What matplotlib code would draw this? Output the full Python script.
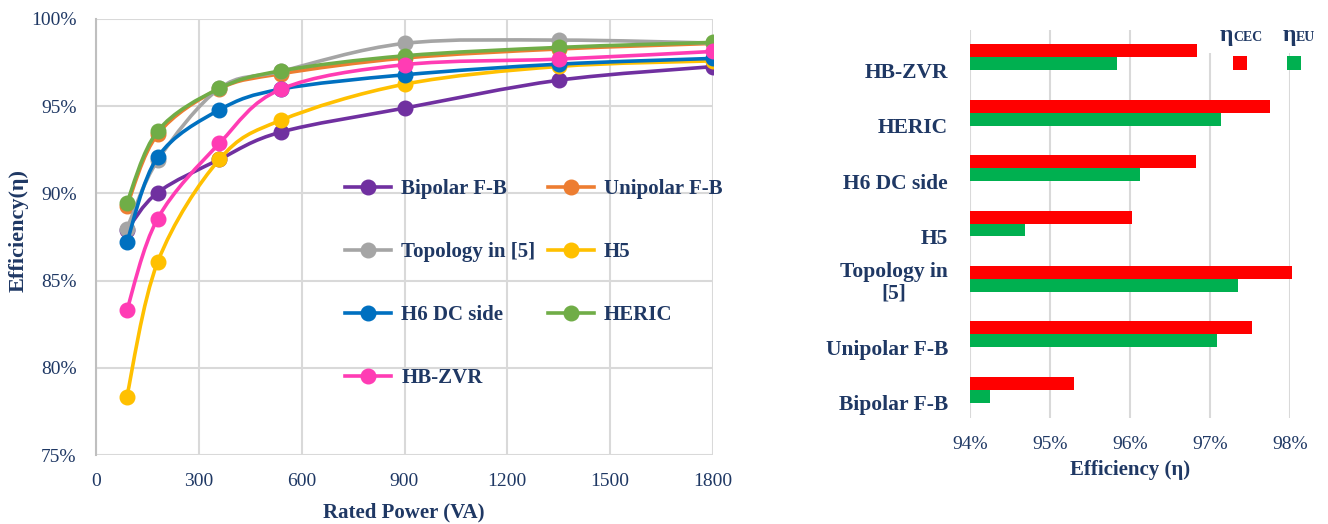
import matplotlib
matplotlib.use('Agg')
import matplotlib.pyplot as plt
import matplotlib.transforms as mtransforms
from matplotlib.path import Path
from matplotlib.patches import PathPatch, Rectangle
from matplotlib.lines import Line2D
from matplotlib.ticker import PercentFormatter
import numpy as np

# efficiency (%) vs rated power (VA)
power = [90, 180, 360, 540, 900, 1350, 1800]
bipolar = [87.9, 90.05, 91.95, 93.52, 94.89, 96.49, 97.27]
unipolar = [89.27, 93.4, 96.0, 96.86, 97.76, 98.28, 98.6]
topology5 = [87.97, 91.9, 96.02, 97.0, 98.6, 98.79, 98.62]
h5 = [78.35, 86.07, 91.95, 94.2, 96.26, 97.28, 97.6]
h6 = [87.2, 92.09, 94.79, 95.98, 96.8, 97.41, 97.74]
heric = [89.46, 93.58, 96.02, 97.03, 97.89, 98.37, 98.66]
hbzvr = [83.3, 88.56, 92.87, 95.98, 97.38, 97.7, 98.14]

series_names = ['Bipolar F-B', 'Unipolar F-B', 'Topology in [5]', 'H5',
                'H6 DC side', 'HERIC', 'HB-ZVR']
series_vals = [bipolar, unipolar, topology5, h5, h6, heric, hbzvr]
series_cols = ['#7030A0', '#ED7D31', '#A5A5A5', '#FFC000',
               '#0070C0', '#70AD47', '#FF3CB4']

# weighted efficiencies (%)
bar_labels = ['Bipolar F-B', 'Unipolar F-B', 'Topology in\n[5]', 'H5',
              'H6 DC side', 'HERIC', 'HB-ZVR']
eta_cec = [95.30, 97.53, 98.03, 96.02, 96.83, 97.75, 96.84]
eta_eu = [94.25, 97.09, 97.35, 94.69, 96.12, 97.14, 95.84]

navy = '#1F3864'
grid_c = '#D9D9D9'
plt.rcParams['font.family'] = ['Liberation Serif', 'DejaVu Serif']

W, H = 1328, 524
fig = plt.figure(figsize=(W / 100, H / 100), dpi=100)


def px(x, y):
    return x / W, 1 - y / H


def smooth_path(xs, ys):
    # excel-like smoothed line: cubic bezier through the points
    p = np.column_stack([xs, ys]).astype(float)
    n = len(p)
    verts = [p[0]]
    codes = [Path.MOVETO]
    for i in range(n - 1):
        prev = p[i - 1] if i > 0 else p[i]
        nxt = p[i + 2] if i + 2 < n else p[i + 1]
        c1 = p[i] + (p[i + 1] - prev) / 6
        c2 = p[i + 1] - (nxt - p[i]) / 6
        verts += [c1, c2, p[i + 1]]
        codes += [Path.CURVE4] * 3
    return Path(verts, codes)


# ---------- left: line chart ----------
ax = fig.add_axes([96 / W, 1 - 455 / H, 617 / W, 436 / H])
for name, vals, col in zip(series_names, series_vals, series_cols):
    ax.add_patch(PathPatch(smooth_path(power, vals), fill=False,
                           edgecolor=col, lw=2.6, zorder=3))
    ax.plot(power, vals, 'o', color=col, ms=10.5, zorder=3)

ax.set_xlim(0, 1800)
ax.set_ylim(75, 100)
ax.set_xticks(range(0, 1801, 300))
ax.set_yticks(range(75, 101, 5))
ax.yaxis.set_major_formatter(PercentFormatter(decimals=0))
ax.grid(True, color=grid_c, lw=1.5)
ax.set_axisbelow(True)
for s in ['top', 'right', 'bottom']:
    ax.spines[s].set_visible(False)
ax.spines['left'].set_color('#BFBFBF')
ax.spines['left'].set_linewidth(1.5)
ax.tick_params(length=0, colors=navy, labelsize=14)
ax.tick_params(axis='y', pad=14)
ax.tick_params(axis='x', pad=13)

# legend is filled row by row in the original -> reorder for matplotlib
order = [0, 2, 4, 6, 1, 3, 5]
handles = [Line2D([], [], color=series_cols[k], lw=2.6, marker='o', ms=10.5)
           for k in order]
ax.legend(handles, [series_names[k] for k in order], ncol=2, frameon=False,
          loc='upper left', bbox_to_anchor=px(345, 179),
          bbox_transform=fig.transFigure,
          borderpad=0, borderaxespad=0, handlelength=2.2, handletextpad=0.5,
          columnspacing=0.6, labelspacing=2.07,
          prop={'weight': 'bold', 'size': 15}, labelcolor=navy)

fig.text(*px(19, 230), 'Efficiency(η)', rotation=90, ha='center', va='center',
         fontsize=16, fontweight='bold', color=navy)
fig.text(*px(404, 512), 'Rated Power (VA)', ha='center', va='center',
         fontsize=15, fontweight='bold', color=navy)

# ---------- right: bar chart ----------
bx = fig.add_axes([970 / W, 1 - 417.5 / H, 320 / W, 388 / H])
ypos = np.arange(len(bar_labels))
bh = 0.234
bx.barh(ypos + bh / 2, np.array(eta_cec) - 94, left=94, height=bh,
        color='#FF0000', clip_on=False, zorder=3)
bx.barh(ypos - bh / 2, np.array(eta_eu) - 94, left=94, height=bh,
        color='#00B050', clip_on=False, zorder=3)
bx.set_xlim(94, 98)
bx.set_ylim(-0.5, len(bar_labels) - 0.5)
bx.set_xticks(range(94, 99))
bx.xaxis.set_major_formatter(PercentFormatter(decimals=0))
bx.set_yticks(ypos)
bx.set_yticklabels([])
bx.grid(True, axis='x', color=grid_c, lw=1.5)
bx.set_axisbelow(True)
for s in bx.spines.values():
    s.set_visible(False)
bx.tick_params(length=0, colors=navy, labelsize=14)
bx.tick_params(axis='x', pad=13)

lab_tr = mtransforms.blended_transform_factory(bx.transAxes, bx.transData)
for i, lab in enumerate(bar_labels):
    dy = -3.7 if '\n' in lab else -15.5
    tr = lab_tr + mtransforms.ScaledTranslation(-22 / 100, dy / 100,
                                                 fig.dpi_scale_trans)
    bx.text(0, i, lab, transform=tr, ha='right', va='center',
            multialignment='center', fontsize=15.5, fontweight='bold',
            color=navy, linespacing=1.15)

fig.text(*px(1130, 470), 'Efficiency (η)', ha='center', va='center',
         fontsize=15, fontweight='bold', color=navy)

# legend of the bar chart (labels above the swatches)
fig.add_artist(Rectangle(px(1203, 53), 122 / W, 53 / H, facecolor='white',
                         edgecolor='none', transform=fig.transFigure, zorder=5))
for xt, sub, xs, col in [(1220, 'CEC', 1233, '#FF0000'),
                         (1283, 'EU', 1287, '#00B050')]:
    fig.text(*px(xt, 41), 'η', ha='left', va='baseline', fontsize=17,
             fontweight='bold', color=navy, zorder=6)
    fig.text(*px(xt + 13, 41), sub, ha='left', va='baseline', fontsize=10,
             fontweight='bold', color=navy, zorder=6)
    fig.add_artist(Rectangle(px(xs, 70), 14 / W, 14 / H, facecolor=col,
                             edgecolor='none', transform=fig.transFigure,
                             zorder=6))

fig.savefig('out.png', dpi=100)
